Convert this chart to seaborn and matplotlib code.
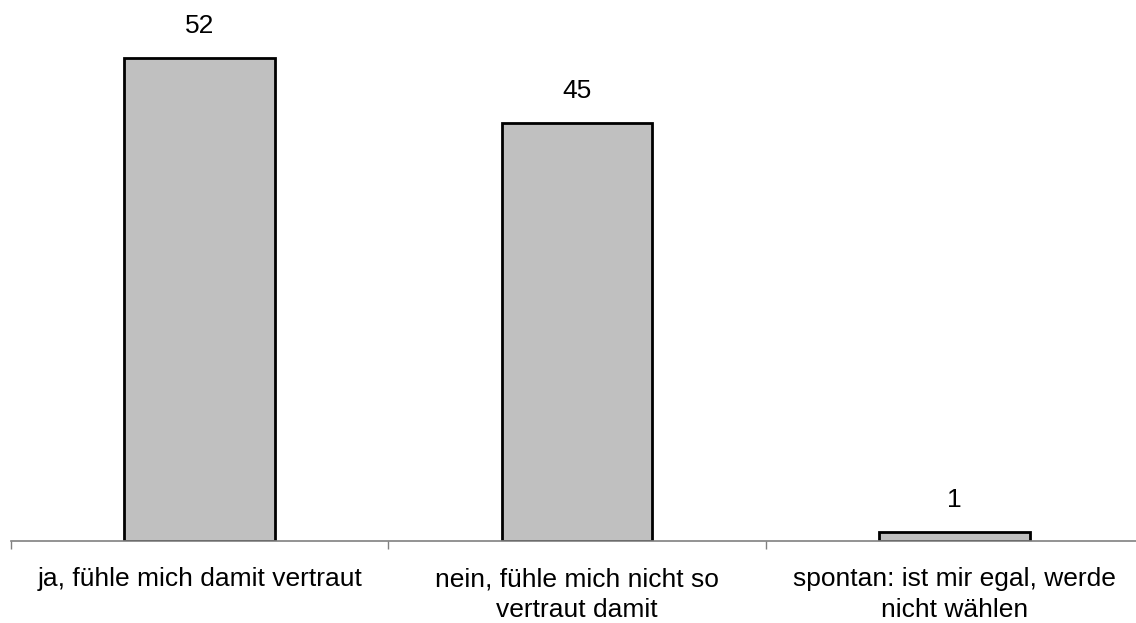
import pandas as pd
import seaborn as sns
import matplotlib.pyplot as plt
from matplotlib.ticker import FixedLocator

categories = ["ja, fühle mich damit vertraut",
              "nein, fühle mich nicht so\nvertraut damit",
              "spontan: ist mir egal, werde\nnicht wählen"]
values = [52, 45, 1]

df = pd.DataFrame({"antwort": categories, "prozent": values})

sns.set_theme(style="white")
plt.rcParams["font.family"] = ["Liberation Sans", "DejaVu Sans"]
plt.rcParams["text.color"] = "black"
plt.rcParams["xtick.color"] = "black"

fig = plt.figure(figsize=(11.36, 6.23), dpi=100)
# axes a bit wider than the figure, like the original (right edge is cut off)
ax = fig.add_axes([11 / 1136, 82 / 623, 1132 / 1136, 520 / 623])

sns.barplot(data=df, x="antwort", y="prozent", color="#c0c0c0", width=0.4,
            edgecolor="black", linewidth=2, saturation=1, ax=ax)

ax.set_xlim(-0.5, 2.5)
ax.set_ylim(0, 56)

for i, v in enumerate(values):
    ax.annotate(str(v), (i, v), xytext=(0, 23), textcoords="offset points",
                ha="center", va="center", fontsize=19, color="black")

for s in ["top", "right", "left"]:
    ax.spines[s].set_visible(False)
ax.spines["bottom"].set_color("#808080")
ax.spines["bottom"].set_linewidth(1.2)

ax.set_yticks([])
ax.set_xlabel("")
ax.set_ylabel("")
ax.set_xticks(range(len(categories)))
ax.set_xticklabels(categories, fontsize=19, color="black", linespacing=1.35)
ax.tick_params(axis="x", which="major", length=0, pad=19)
ax.xaxis.set_minor_locator(FixedLocator([-0.5, 0.5, 1.5, 2.5]))
ax.tick_params(axis="x", which="minor", bottom=True, length=6, width=1, color="#808080", direction="out")

plt.savefig("out.png", dpi=100)
